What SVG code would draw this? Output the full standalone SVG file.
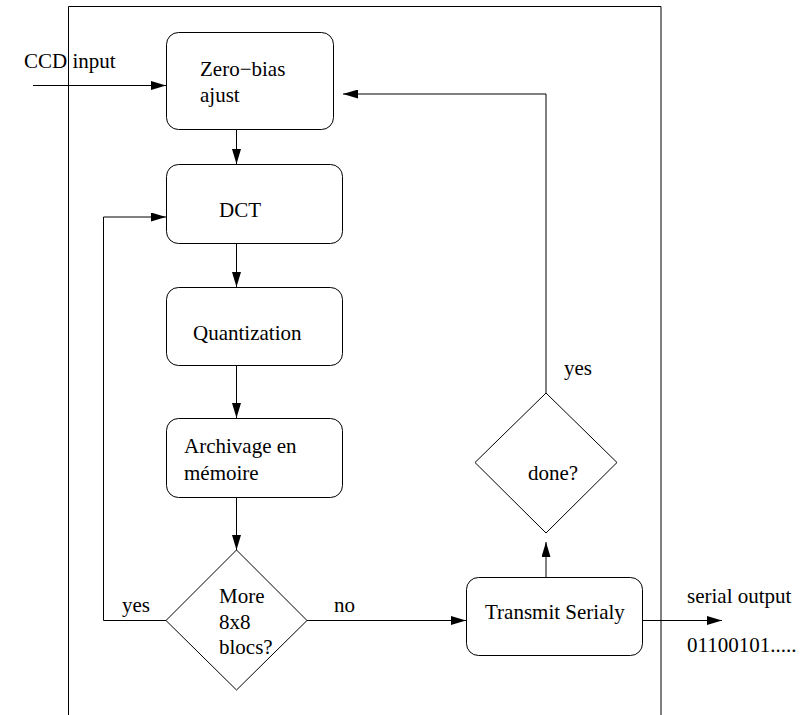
<svg xmlns="http://www.w3.org/2000/svg" width="800" height="715" viewBox="0 0 800 715">
  <style>
    .box { fill: #fff; stroke: #000; stroke-width: 1; }
    .wire { fill: none; stroke: #000; stroke-width: 1; }
    text { font-family: "Liberation Serif", "Times New Roman", serif; font-size: 21px; fill: #000; }
  </style>
  <defs>
    <marker id="arrow" markerUnits="userSpaceOnUse" markerWidth="15" markerHeight="9" refX="15" refY="4.5" orient="auto">
      <path d="M0,0 L15,4.5 L0,9 z" fill="#000"/>
    </marker>
  </defs>

  <rect width="800" height="715" fill="#fff"/>

  <!-- enclosing frame (open at the bottom) -->
  <path class="wire" d="M68.5,715 V6.5 H661 V715"/>

  <!-- connectors -->
  <g id="connectors" class="wire">
    <path d="M33,85.5 H166" marker-end="url(#arrow)"/>
    <path d="M236.5,129 V164" marker-end="url(#arrow)"/>
    <path d="M236.5,243 V287" marker-end="url(#arrow)"/>
    <path d="M236.5,365 V418" marker-end="url(#arrow)"/>
    <path d="M236.5,497 V550" marker-end="url(#arrow)"/>
    <path d="M166,620.5 H103.5 V217 H166" marker-end="url(#arrow)"/>
    <path d="M307,620.5 H466" marker-end="url(#arrow)"/>
    <path d="M546,577 V542" marker-end="url(#arrow)"/>
    <path d="M546,393 V94 H343" marker-end="url(#arrow)"/>
    <path d="M643,620.5 H722" marker-end="url(#arrow)"/>
  </g>

  <text x="24" y="68">CCD input</text>

  <g id="zero-bias">
    <rect class="box" x="166.5" y="32.5" width="167" height="97" rx="12"/>
    <text x="200" y="76">Zero−bias</text>
    <text x="200" y="102">ajust</text>
  </g>

  <g id="dct">
    <rect class="box" x="166.5" y="164.5" width="176" height="79" rx="12"/>
    <text x="219" y="217">DCT</text>
  </g>

  <g id="quantization">
    <rect class="box" x="166.5" y="287.5" width="176" height="78" rx="12"/>
    <text x="193" y="340">Quantization</text>
  </g>

  <g id="archivage">
    <rect class="box" x="166.5" y="418.5" width="176" height="79" rx="12"/>
    <text x="184" y="453">Archivage en</text>
    <text x="184" y="480">mémoire</text>
  </g>

  <g id="more-blocs">
    <polygon class="box" points="236.5,550 307,620.5 236.5,690 166,620.5"/>
    <text x="219" y="603">More</text>
    <text x="219" y="629">8x8</text>
    <text x="219" y="654">blocs?</text>
  </g>
  <text x="122" y="612">yes</text>
  <text x="334" y="612">no</text>

  <g id="transmit">
    <rect class="box" x="466.5" y="577.5" width="176" height="78" rx="12"/>
    <text x="485" y="619">Transmit Serialy</text>
  </g>

  <g id="done">
    <polygon class="box" points="546,393 617,462.5 546,533 475,462.5"/>
    <text x="528" y="480">done?</text>
  </g>
  <text x="564" y="375">yes</text>

  <text x="687" y="603">serial output</text>
  <text x="687" y="652">01100101.....</text>
</svg>
